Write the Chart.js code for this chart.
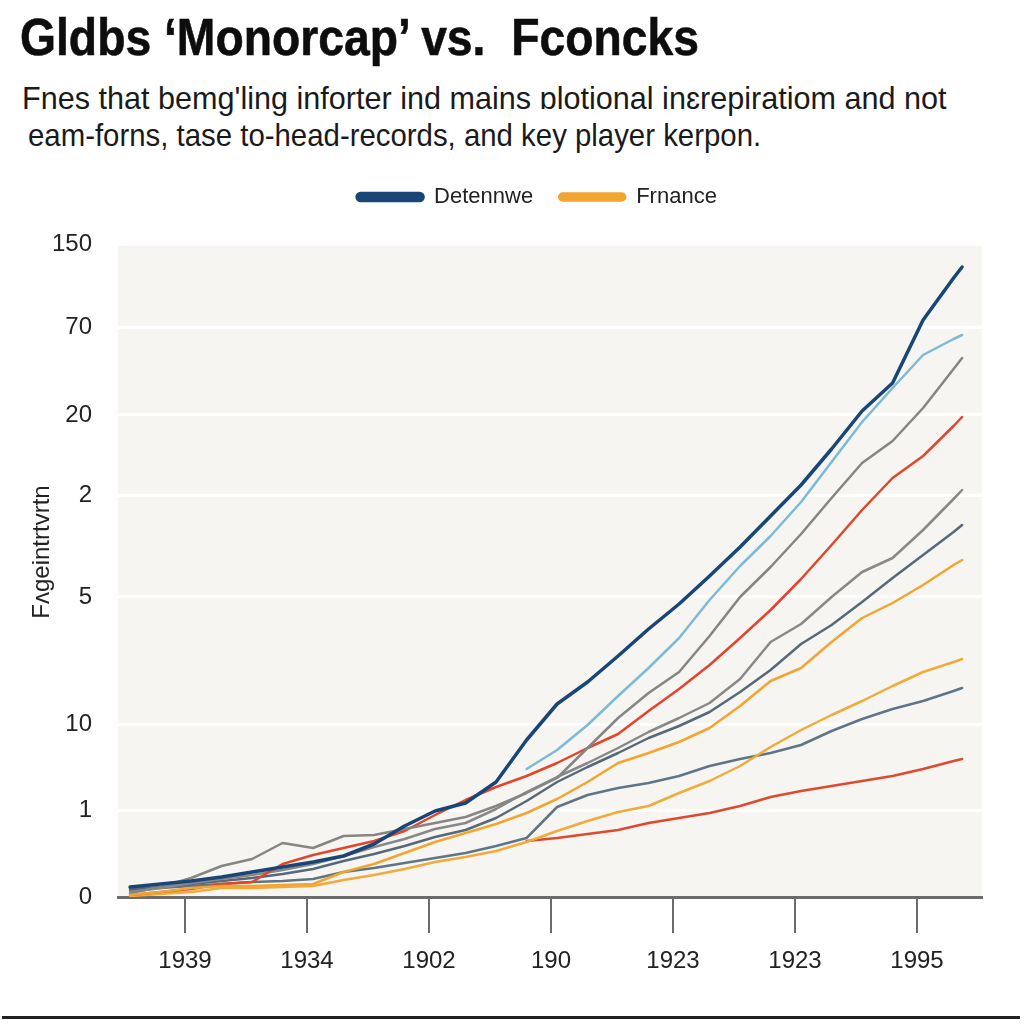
<!DOCTYPE html>
<html>
<head>
<meta charset="utf-8">
<script src="https://cdn.jsdelivr.net/npm/chart.js@4.4.1/dist/chart.umd.min.js"></script>
<style>
  html, body { margin: 0; padding: 0; background: #ffffff; }
  body { width: 1024px; height: 1024px; position: relative; overflow: hidden; font-family: "Liberation Sans", Arial, sans-serif; color: #1a1a1a; }
  .title { position: absolute; left: 20px; top: 11px; font-size: 52px; line-height: 52px; font-weight: bold; white-space: nowrap; transform: scaleX(0.89); transform-origin: left top; color: #0d0d0d; -webkit-text-stroke: 0.6px #0d0d0d; }
  .sub { position: absolute; font-size: 32px; line-height: 37px; white-space: nowrap; transform-origin: left top; }
  #wrap { position: absolute; left: 0; top: 160px; width: 1024px; height: 840px; }
  .rule { position: absolute; left: 2px; top: 1016px; width: 1018px; height: 0; border-top: 3px solid #222; }
</style>
</head>
<body>
<div class="title">Gldbs ‘Monorcap’ vs.&nbsp; Fconcks</div>
<div class="sub" style="left:22px; top:80px; transform: scaleX(0.956);">Fnes that bemg'ling inforter ind mains ɒlotional inɛrepiratiom and not</div>
<div class="sub" style="left:28px; top:117px; transform: scaleX(0.918);">eam-forns, tase to-head-records, and key player kerpon.</div>
<div id="wrap"><canvas id="chart"></canvas></div>
<div class="rule"></div>
<script>
// shared x positions (in tick units, 0 = first labelled tick)
const xs = [-0.45, -0.2, 0.05, 0.3, 0.55, 0.8, 1.05, 1.3, 1.55, 1.8, 2.05, 2.3, 2.55, 2.8, 3.05,
            3.3, 3.55, 3.8, 4.05, 4.3, 4.55, 4.8, 5.05, 5.3, 5.55, 5.8, 6.05, 6.3, 6.37];
const xTickLabels = ["1939", "1934", "1902", "190", "1923", "1923", "1995"];

// y ticks: positions on the value scale and the labels printed there
const yTickValues = [0, 87, 173, 300, 402, 482, 570, 653];
const yTickLabels = ["0", "1", "10", "5", "2", "20", "70", "150"];
const yTitle = "Fʌgeintrtvrtn";

const legendNames = ["Detennwe", "Frnance"];

const detennwe   = [10, 13, 16, 20, 25, 30, 35, 41, 53, 71, 86, 94, 115, 157, 193, 215, 241, 268, 293, 321, 350, 381, 412, 448, 486, 514, 577, 619, 630];
const frnance    = [2, 5, 9, 11, 11, 12, 13, 25, 33, 44, 55, 64, 73, 84, 98, 115, 134, 144, 155, 169, 191, 216, 229, 255, 279, 294, 312, 332, 337];
const lightBlue  = [null, null, null, null, null, null, null, null, null, null, null, null, null,
                    128, 147, 172, 201, 229, 259, 297, 331, 361, 395, 435, 475, 509, 542, 558, 562];
const greyUpper  = [4, 10, 19, 31, 38, 54, 49, 61, 62, 68, 74, 80, 91, 104, 119, 149, 179, 204, 225, 261, 300, 330, 363, 399, 434, 456, 489, 528, 539];
const redUpper   = [2, 5, 8, 13, 15, 33, 42, 49, 56, 66, 82, 97, 110, 121, 134, 149, 163, 186, 208, 232, 259, 287, 318, 352, 387, 419, 441, 471, 480];
const greyMid    = [5, 9, 14, 18, 22, 27, 33, 41, 50, 58, 68, 74, 88, 105, 120, 134, 149, 165, 179, 194, 218, 255, 273, 300, 325, 339, 367, 398, 407];
const slate      = [8, 10, 13, 16, 19, 23, 28, 36, 43, 51, 60, 67, 79, 96, 115, 130, 144, 159, 171, 185, 205, 227, 253, 272, 295, 319, 342, 365, 372];
const orangeLow  = [1, 3, 5, 9, 9, 10, 11, 17, 22, 28, 35, 40, 46, 55, 66, 76, 85, 91, 104, 116, 131, 150, 167, 182, 196, 211, 225, 235, 238];
const slateLow   = [7, 9, 11, 13, 15, 16, 18, 25, 29, 34, 39, 44, 51, 59, 90, 102, 109, 114, 121, 131, 138, 144, 152, 166, 178, 188, 196, 206, 209];
const redLow     = [null, null, null, null, null, null, null, null, null, null, null, null, null,
                    56, 59, 63, 67, 74, 79, 84, 91, 100, 106, 111, 116, 121, 128, 136, 138];

function line(label, data, color, width) {
  return {
    label: label,
    data: data,
    borderColor: color,
    backgroundColor: color,
    borderWidth: width,
    pointRadius: 0,
    tension: 0,
    borderJoinStyle: "round",
    borderCapStyle: "round"
  };
}

const plotBackground = {
  id: "plotBackground",
  beforeDraw(chart) {
    const { ctx, chartArea } = chart;
    ctx.save();
    ctx.fillStyle = "#f6f5f1";
    ctx.fillRect(chartArea.left, chartArea.top, chartArea.right - chartArea.left, chartArea.bottom - chartArea.top);
    ctx.restore();
  }
};

// extra room under the legend, and centre it over the plot rather than the canvas
const legendPlacement = {
  id: "legendPlacement",
  beforeInit(chart) {
    const fit = chart.legend.fit;
    chart.legend.fit = function () {
      fit.call(this);
      this.height += 26;
    };
  },
  afterLayout(chart) {
    chart.legend.left = 92;
  }
};

const yAxisTitle = {
  id: "yAxisTitle",
  afterDraw(chart) {
    const ctx = chart.ctx;
    ctx.save();
    ctx.translate(42, 392);
    ctx.rotate(-Math.PI / 2);
    ctx.font = '24px "Liberation Sans"';
    ctx.fillStyle = "#222";
    ctx.textAlign = "center";
    ctx.textBaseline = "middle";
    ctx.fillText(yTitle, 0, 0);
    ctx.restore();
  }
};

new Chart(document.getElementById("chart"), {
  type: "line",
  data: {
    labels: xs,
    datasets: [
      line(legendNames[0], detennwe, "#1a4677", 3.5),
      line(legendNames[1], frnance, "#f2a531", 2.5),
      line("", lightBlue, "#7dbad6", 2.5),
      line("", greyUpper, "#858585", 2.5),
      line("", redUpper, "#e2452b", 2.5),
      line("", greyMid, "#888888", 2.5),
      line("", slate, "#55697b", 2.5),
      line("", orangeLow, "#f0ab3a", 2.5),
      line("", slateLow, "#5f7587", 2.5),
      line("", redLow, "#dd4a2e", 2.5)
    ]
  },
  options: {
    responsive: true,
    maintainAspectRatio: false,
    animation: false,
    layout: { padding: { top: 0, left: 0, right: 42, bottom: 0 } },
    plugins: {
      legend: {
        position: "top",
        labels: {
          filter: item => legendNames.includes(item.text),
          boxWidth: 66,
          boxHeight: 7,
          useBorderRadius: true,
          borderRadius: 3.5,
          padding: 26,
          color: "#222",
          font: { family: "Liberation Sans", size: 22 }
        }
      },
      tooltip: { enabled: false }
    },
    scales: {
      x: {
        type: "linear",
        min: -0.549,
        max: 6.533,
        afterBuildTicks: scale => { scale.ticks = xTickLabels.map((t, i) => ({ value: i })); },
        afterFit: scale => { scale.height = 103; },
        ticks: {
          callback: value => xTickLabels[value],
          padding: 14,
          color: "#222",
          font: { family: "Liberation Sans", size: 24 },
          maxRotation: 0
        },
        grid: { drawOnChartArea: false, tickLength: 36, color: "#6b6b6b", lineWidth: 2 },
        border: { color: "#6b6b6b", width: 3 }
      },
      y: {
        min: 0,
        max: 653,
        afterBuildTicks: scale => { scale.ticks = yTickValues.map(v => ({ value: v })); },
        afterFit: scale => { scale.width = 118; },
        ticks: {
          callback: value => yTickLabels[yTickValues.indexOf(value)],
          padding: 26,
          color: "#222",
          font: { family: "Liberation Sans", size: 24 }
        },
        grid: { color: "#ffffff", lineWidth: 3, drawTicks: false },
        border: { display: false }
      }
    }
  },
  plugins: [plotBackground, legendPlacement, yAxisTitle]
});
</script>
</body>
</html>
